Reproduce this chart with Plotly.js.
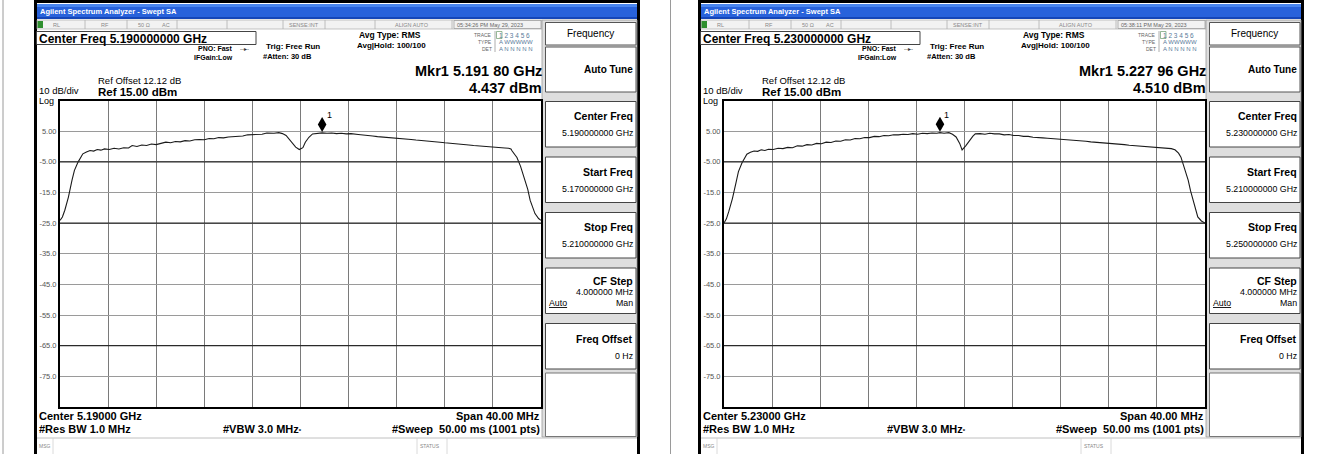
<!DOCTYPE html>
<html><head><meta charset="utf-8">
<script src="https://cdn.plot.ly/plotly-3.0.1.min.js"></script>
<style>html,body{margin:0;padding:0;background:#fff}#chart{width:1336px;height:454px}</style>
</head><body><div id="chart"></div>
<script>
// ---------------- data ----------------
const leftFreqGHz = [5.1700,5.1702,5.1704,5.1707,5.1710,5.1712,5.1715,5.1717,5.1719,5.1722,5.1725,5.1728,5.1731,5.1734,5.1737,5.1741,5.1745,5.1749,5.1753,5.1757,5.1760,5.1764,5.1768,5.1772,5.1776,5.1780,5.1784,5.1788,5.1792,5.1796,5.1800,5.1804,5.1808,5.1812,5.1816,5.1820,5.1824,5.1828,5.1832,5.1836,5.1840,5.1844,5.1848,5.1852,5.1856,5.1860,5.1864,5.1868,5.1872,5.1878,5.1882,5.1885,5.1888,5.1891,5.1893,5.1896,5.1899,5.1902,5.1904,5.1907,5.1910,5.1914,5.1918,5.1922,5.1926,5.1930,5.1934,5.1938,5.1942,5.1948,5.1952,5.1956,5.1960,5.1964,5.1968,5.1972,5.1976,5.1980,5.1984,5.1988,5.1992,5.1996,5.2000,5.2004,5.2008,5.2012,5.2016,5.2020,5.2024,5.2028,5.2032,5.2036,5.2040,5.2044,5.2048,5.2052,5.2059,5.2065,5.2070,5.2073,5.2075,5.2076,5.2078,5.2080,5.2083,5.2086,5.2089,5.2091,5.2093,5.2095,5.2098,5.2100];
const leftLevelDbm = [-24.1,-23.0,-20.8,-16.5,-11.0,-7.8,-5.1,-3.6,-2.4,-1.8,-1.3,-1.5,-1.0,-1.2,-0.8,-1.0,-0.6,-0.8,-0.4,-0.5,0.3,0.0,0.5,0.3,0.8,0.6,1.1,1.4,1.2,1.6,1.5,1.9,1.8,2.2,2.3,2.2,2.6,2.5,2.9,2.8,3.1,3.2,3.5,3.4,3.8,3.9,4.1,4.0,4.4,4.3,4.5,4.2,3.6,2.2,0.9,-0.2,-1.0,-0.4,1.4,3.0,4.1,4.3,4.437,4.3,4.4,4.2,4.3,4.1,4.2,3.9,3.8,3.5,3.4,3.2,3.1,3.0,2.8,2.7,2.6,2.4,2.3,2.1,2.0,1.8,1.7,1.5,1.4,1.2,1.1,0.9,0.8,0.6,0.5,0.3,0.2,0.1,0.0,-0.3,-0.5,-0.6,-0.8,-1.5,-2.5,-3.6,-6.5,-10.0,-14.0,-17.6,-19.8,-21.9,-23.5,-24.1];
const rightFreqGHz = [5.2100,5.2102,5.2104,5.2107,5.2110,5.2112,5.2115,5.2117,5.2119,5.2122,5.2125,5.2128,5.2131,5.2134,5.2137,5.2141,5.2145,5.2149,5.2153,5.2157,5.2161,5.2165,5.2169,5.2173,5.2177,5.2181,5.2185,5.2189,5.2193,5.2197,5.2201,5.2205,5.2209,5.2213,5.2217,5.2221,5.2225,5.2229,5.2233,5.2237,5.2241,5.2245,5.2249,5.2253,5.2257,5.2261,5.2265,5.2269,5.2273,5.2277,5.22796,5.2283,5.2287,5.2290,5.2293,5.2296,5.2298,5.2301,5.2304,5.2307,5.2309,5.2313,5.2317,5.2321,5.2325,5.2329,5.2333,5.2337,5.2341,5.2345,5.2349,5.2353,5.2357,5.2361,5.2365,5.2369,5.2373,5.2377,5.2381,5.2385,5.2389,5.2393,5.2397,5.2401,5.2405,5.2409,5.2413,5.2417,5.2421,5.2425,5.2429,5.2433,5.2437,5.2441,5.2445,5.2449,5.2453,5.2457,5.2461,5.2465,5.2469,5.2472,5.2475,5.2478,5.2480,5.2483,5.2486,5.2488,5.2490,5.2492,5.2494,5.2497,5.2500];
const rightLevelDbm = [-25.0,-23.6,-21.2,-17.0,-11.8,-8.2,-5.3,-3.7,-2.5,-1.9,-1.5,-1.6,-1.1,-1.3,-0.9,-1.0,-0.6,-0.7,-0.3,-0.4,0.2,0.1,0.6,0.5,1.0,0.9,1.4,1.3,1.8,1.7,2.2,2.1,2.6,2.5,2.9,2.9,3.3,3.2,3.6,3.5,3.8,3.8,4.0,3.9,4.2,4.0,4.3,4.2,4.4,4.3,4.51,4.3,4.5,4.0,3.1,1.0,-1.1,0.2,2.0,3.4,4.1,4.2,4.0,4.3,4.1,4.1,3.8,3.9,3.6,3.6,3.3,3.3,3.0,3.0,2.8,2.7,2.6,2.4,2.4,2.1,2.1,1.9,1.8,1.7,1.5,1.4,1.2,1.1,1.0,0.8,0.7,0.6,0.4,0.3,0.2,0.0,0.0,-0.2,-0.2,-0.4,-0.5,-0.7,-1.1,-2.2,-3.5,-7.0,-11.0,-14.5,-17.6,-20.5,-23.0,-24.3,-25.0];

const centerFreqGHz = [5.19, 5.23];
const spanGHz = 0.04;
const divisionGHz = 0.004;
const refLevelDbm = 15;
const bottomLevelDbm = -85;
const markerFreqGHz = [5.19180, 5.22796];
const markerLevelDbm = [4.437, 4.510];
const yTickVals = [5, -5, -15, -25, -35, -45, -55, -65, -75];
const yTickText = ['5.00', '-5.00', '-15.0', '-25.0', '-35.0', '-45.0', '-55.0', '-65.0', '-75.0'];
const darkGridDbm = [-5, -25, -65];

const centerFreqText = ['Center Freq 5.190000000 GHz', 'Center Freq 5.230000000 GHz'];
const mkrFreqText = ['Mkr1 5.191 80 GHz', 'Mkr1 5.227 96 GHz'];
const mkrLevelText = ['4.437 dBm', '4.510 dBm'];
const timeText = ['05:34:26 PM May 29, 2023', '05:38:11 PM May 29, 2023'];
const centerSoftText = ['5.190000000 GHz', '5.230000000 GHz'];
const startSoftText = ['5.170000000 GHz', '5.210000000 GHz'];
const stopSoftText = ['5.210000000 GHz', '5.250000000 GHz'];
const bottomCenterText = ['Center 5.19000 GHz', 'Center 5.23000 GHz'];

// ---------------- drawing helpers ----------------
const W = 1336, H = 454;
const FONT = 'Liberation Sans, Arial, sans-serif';
const shapes = [], annotations = [];
const X = p => p / W, Y = p => 1 - p / H;
function rect(x0, y0, x1, y1, fill, lineColor, lw, layer) {
  shapes.push({type: 'rect', xref: 'paper', yref: 'paper', x0: X(x0), x1: X(x1), y0: Y(y1), y1: Y(y0),
    fillcolor: fill || 'rgba(0,0,0,0)', line: {color: lineColor || 'rgba(0,0,0,0)', width: lw || 0}, layer: layer || 'below'});
}
function seg(x0, y0, x1, y1, color, w, layer) {
  shapes.push({type: 'line', xref: 'paper', yref: 'paper', x0: X(x0), x1: X(x1), y0: Y(y0), y1: Y(y1),
    line: {color: color, width: w || 1}, layer: layer || 'below'});
}
function txt(x, y, s, size, o) {
  o = o || {};
  annotations.push({xref: 'paper', yref: 'paper', x: X(x), y: Y(y), text: o.bold ? '<b>' + s + '</b>' : s,
    showarrow: false, xanchor: o.anchor || 'left', yanchor: 'middle', borderpad: 0,
    font: {family: o.family || FONT, size: size, color: o.color || '#000'}});
}

const panelOffset = [0, 664];

function panel(i) {
  const d = panelOffset[i];
  rect(d + 35.5, 1.5, d + 638.5, 460, '#ffffff', '#000', 3);
  rect(d + 37, 4, d + 637, 19, '#2862db');
  rect(d + 37, 4, d + 637, 7, '#4a86f0');
  rect(d + 37, 17, d + 637, 19, '#1546b8');
  txt(d + 39, 12, 'Agilent Spectrum Analyzer - Swept SA', 7.5, {bold: true, color: '#fff'});
  rect(d + 37, 20, d + 542, 29, '#f2f2f2', '#a0a0a0', 0.6);
  rect(d + 37.5, 21, d + 43, 28, '#2f8f2f');
  [85, 127, 177, 227, 283, 325, 375, 452].forEach(v => seg(d + v, 20, d + v, 29, '#b0b0b0', 0.8));
  const sc = '#888';
  txt(d + 52, 24.5, 'RL', 5.5, {color: sc});
  txt(d + 100, 24.5, 'RF', 5.5, {color: sc});
  txt(d + 137, 24.5, '50 Ω', 5.5, {color: sc});
  txt(d + 161, 24.5, 'AC', 5.5, {color: sc});
  txt(d + 288, 24.5, 'SENSE:INT', 5.5, {color: sc});
  txt(d + 394, 24.5, 'ALIGN AUTO', 5.5, {color: sc});
  rect(d + 454, 20.5, d + 541, 28.5, 'rgba(0,0,0,0)', '#999', 0.7);
  txt(d + 456, 24.5, timeText[i], 5.5, {color: '#666'});

  rect(d + 36.5, 31.5, d + 256, 44.5, 'rgba(0,0,0,0)', '#444', 1);
  txt(d + 38, 38.5, centerFreqText[i], 12, {bold: true});
  txt(d + 197, 48.5, 'PNO: Fast', 7, {bold: true});
  txt(d + 239, 48.5, '‐‐▸‐', 6, {color: '#333'});
  txt(d + 193, 57.5, 'IFGain:Low', 7, {bold: true});
  txt(d + 265, 46.5, 'Trig: Free Run', 8, {bold: true});
  txt(d + 262, 56.5, '#Atten: 30 dB', 7.5, {bold: true});
  txt(d + 358, 35, 'Avg Type: RMS', 8.5, {bold: true});
  txt(d + 356, 45, 'Avg|Hold: 100/100', 8, {bold: true});
  txt(d + 493, 35, 'TRACE', 5, {anchor: 'right', color: '#666'});
  txt(d + 493, 42, 'TYPE', 5, {anchor: 'right', color: '#666'});
  txt(d + 493, 49, 'DET', 5, {anchor: 'right', color: '#666'});
  seg(d + 495, 31, d + 495, 52, '#999', 0.8);
  rect(d + 496.5, 31.5, d + 502, 38.5, 'rgba(0,0,0,0)', '#6a9a6a', 0.7);
  txt(d + 498, 35, '1 2 3 4 5 6', 6.5, {color: '#5a7a9a'});
  txt(d + 498, 42, 'A WWWWW', 6, {color: '#5a7a9a'});
  txt(d + 498, 49, 'A N N N N N', 6, {color: '#5a7a9a'});
  txt(d + 543, 70.5, mkrFreqText[i], 14.5, {bold: true, anchor: 'right'});
  txt(d + 543, 87.5, mkrLevelText[i], 14.5, {bold: true, anchor: 'right'});
  txt(d + 97, 81, 'Ref Offset 12.12 dB', 9.5);
  txt(d + 97, 91.5, 'Ref 15.00 dBm', 11.5, {bold: true});
  txt(d + 38, 90.5, '10 dB/div', 9.5);
  txt(d + 38, 100.5, 'Log', 9);

  rect(d + 542, 20, d + 637, 437, '#dedede', '#9a9a9a', 0.8);
  rect(d + 545.5, 22.5, d + 636, 45, '#ffffff', '#555', 1);
  txt(d + 590.5, 33.5, 'Frequency', 10, {anchor: 'center'});
  rect(d + 545.5, 47, d + 636, 92, '#ffffff', '#555', 1);
  txt(d + 634, 70, 'Auto Tune', 10, {bold: true, anchor: 'right'});
  const tops = [101.5, 157, 212.5, 268, 323.5];
  tops.forEach(t => rect(d + 545.5, t, d + 636, t + 45.5, '#ffffff', '#444', 1));
  rect(d + 545.5, 373, d + 636, 436.5, '#ffffff', '#777', 1);
  txt(d + 634, 116.5, 'Center Freq', 10.5, {bold: true, anchor: 'right'});
  txt(d + 634, 133, centerSoftText[i], 8.8, {anchor: 'right'});
  txt(d + 634, 172, 'Start Freq', 10.5, {bold: true, anchor: 'right'});
  txt(d + 634, 188.5, startSoftText[i], 8.8, {anchor: 'right'});
  txt(d + 634, 227.5, 'Stop Freq', 10.5, {bold: true, anchor: 'right'});
  txt(d + 634, 244, stopSoftText[i], 8.8, {anchor: 'right'});
  txt(d + 634, 281, 'CF Step', 10.5, {bold: true, anchor: 'right'});
  txt(d + 634, 292, '4.000000 MHz', 8.8, {anchor: 'right'});
  txt(d + 548, 303, '<u>Auto</u>', 8.8);
  txt(d + 634, 303, 'Man', 8.8, {anchor: 'right'});
  txt(d + 634, 339, 'Freq Offset', 10.5, {bold: true, anchor: 'right'});
  txt(d + 634, 355.5, '0 Hz', 8.8, {anchor: 'right'});

  txt(d + 38, 416, bottomCenterText[i], 11, {bold: true});
  txt(d + 38, 428.5, '#Res BW 1.0 MHz', 11, {bold: true});
  txt(d + 222, 428.5, '#VBW 3.0 MHz<span style="font-size:6px">*</span>', 11, {bold: true});
  txt(d + 541, 416, 'Span 40.00 MHz', 11, {bold: true, anchor: 'right'});
  txt(d + 541, 428.5, '#Sweep&nbsp;&nbsp;50.00 ms (1001 pts)', 11, {bold: true, anchor: 'right'});
  seg(d + 37, 438, d + 637, 438, '#c0c0c0', 1);
  seg(d + 53, 438, d + 53, 454, '#d0d0d0', 0.8);
  seg(d + 417, 438, d + 417, 454, '#d0d0d0', 0.8);
  seg(d + 447, 438, d + 447, 454, '#d0d0d0', 0.8);
  txt(d + 38, 446, 'MSG', 5, {color: '#888'});
  txt(d + 419, 446, 'STATUS', 5, {color: '#888'});
}

seg(3, 0, 3, 454, '#9a9a9a', 1);
seg(670.5, 0, 670.5, 454, '#9a9a9a', 1);
panel(0);
panel(1);

// ---------------- axes ----------------
const plotPx = [[60, 541], [724, 1205]];
const plotTop = 100.5, plotBottom = 407;
function xAxis(i) {
  const start = centerFreqGHz[i] - spanGHz / 2, stop = centerFreqGHz[i] + spanGHz / 2;
  return {domain: [X(plotPx[i][0]), X(plotPx[i][1])], range: [start, stop], tick0: start, dtick: divisionGHz,
    showgrid: true, gridcolor: '#7a7a7a', gridwidth: 1, showticklabels: false, ticks: '', zeroline: false,
    showline: true, linecolor: '#000', linewidth: 2, mirror: true, fixedrange: true,
    anchor: i ? 'y2' : 'y'};
}
function yAxis(i) {
  return {domain: [Y(plotBottom), Y(plotTop)], range: [bottomLevelDbm, refLevelDbm], tickmode: 'array',
    tickvals: yTickVals, ticktext: yTickText, showgrid: true, gridcolor: '#9a9a9a', gridwidth: 1,
    ticks: '', tickfont: {family: FONT, size: 7.5, color: '#555'}, zeroline: false,
    showline: true, linecolor: '#000', linewidth: 2, mirror: true, fixedrange: true,
    anchor: i ? 'x2' : 'x'};
}

[0, 1].forEach(i => {
  const xr = i ? 'x2' : 'x', yr = i ? 'y2' : 'y';
  darkGridDbm.forEach(v => shapes.push({type: 'line', xref: xr + ' domain', yref: yr, x0: 0, x1: 1, y0: v, y1: v,
    line: {color: '#2a2a2a', width: 1.2}, layer: 'above'}));
  shapes.push({type: 'path', xref: xr, yref: yr, xsizemode: 'pixel', ysizemode: 'pixel',
    xanchor: markerFreqGHz[i], yanchor: markerLevelDbm[i],
    path: 'M0,1 L4.3,8.5 L0,16 L-4.3,8.5 Z', fillcolor: '#000', line: {width: 0}, layer: 'above'});
  annotations.push({xref: xr, yref: yr, x: markerFreqGHz[i], y: markerLevelDbm[i], text: '1', showarrow: false,
    xshift: 7, yshift: 18, font: {family: FONT, size: 9, color: '#000'}});
});

const traces = [
  {x: leftFreqGHz, y: leftLevelDbm, xaxis: 'x', yaxis: 'y', mode: 'lines', line: {color: '#1a1a1a', width: 1.1}, hoverinfo: 'skip'},
  {x: rightFreqGHz, y: rightLevelDbm, xaxis: 'x2', yaxis: 'y2', mode: 'lines', line: {color: '#1a1a1a', width: 1.1}, hoverinfo: 'skip'}
];

const layout = {
  width: W, height: H, margin: {l: 0, r: 0, t: 0, b: 0, pad: 0},
  paper_bgcolor: '#ffffff', plot_bgcolor: '#ffffff', showlegend: false,
  xaxis: xAxis(0), yaxis: yAxis(0), xaxis2: xAxis(1), yaxis2: yAxis(1),
  shapes: shapes, annotations: annotations
};
Plotly.newPlot('chart', traces, layout, {displayModeBar: false, staticPlot: true});
</script></body></html>
